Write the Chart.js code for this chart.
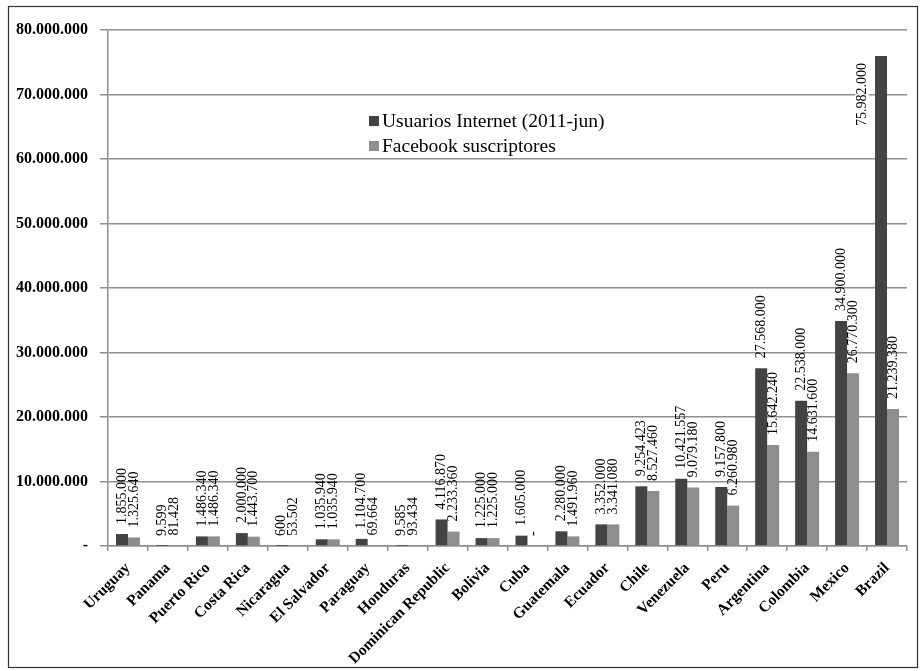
<!DOCTYPE html>
<html>
<head>
<meta charset="utf-8">
<script src="https://cdn.jsdelivr.net/npm/chart.js@4/dist/chart.umd.min.js"></script>
<style>
html,body{margin:0;padding:0;background:#fff;}
#wrap{width:921px;height:671px;position:relative;}
</style>
</head>
<body>
<div id="wrap"><canvas id="c" width="921" height="671"></canvas></div>
<script>
const categories = ["Uruguay","Panama","Puerto Rico","Costa Rica","Nicaragua","El Salvador","Paraguay","Honduras","Dominican Republic","Bolivia","Cuba","Guatemala","Ecuador","Chile","Venezuela","Peru","Argentina","Colombia","Mexico","Brazil"];
const internetUsers = [1855000,9599,1486340,2000000,600,1035940,1104700,9585,4116870,1225000,1605000,2280000,3352000,9254423,10421557,9157800,27568000,22538000,34900000,75982000];
const facebookSubs = [1325640,81428,1486340,1443700,53502,1035940,69664,93434,2233360,1225000,0,1491960,3341080,8527460,9079180,6260980,15642240,14631600,26770300,21239380];
const seriesNames = ["Usuarios Internet (2011-jun)","Facebook suscriptores"];
const yTicks = [0,10000000,20000000,30000000,40000000,50000000,60000000,70000000,80000000];

const DARK = "#434343", LIGHT = "#8e8e8e", GRID = "#8f8f8f";
function fmt(v){ if(v===0) return "-"; return String(v).replace(/\B(?=(\d{3})+(?!\d))/g, "."); }

const framePlugin = {
  id:'frame',
  beforeDraw(chart){
    const ctx = chart.ctx;
    ctx.save();
    ctx.fillStyle = '#fff';
    ctx.fillRect(0,0,chart.width,chart.height);
    ctx.restore();
  },
  afterDraw(chart){
    const ctx = chart.ctx;
    ctx.save();
    ctx.strokeStyle = '#333';
    ctx.lineWidth = 1.2;
    ctx.strokeRect(8.5,6.5,909,661);
    // legend
    const ds = chart.data.datasets;
    ctx.font = '19.5px "Liberation Serif"';
    ctx.textBaseline = 'middle';
    ctx.textAlign = 'left';
    const lx = 369, ly = [121,146];
    ds.forEach((d,i)=>{
      ctx.fillStyle = d.backgroundColor;
      ctx.fillRect(lx, ly[i]-5, 10, 10);
      ctx.fillStyle = '#000';
      ctx.fillText(d.label, lx+13, ly[i]+1);
    });
    ctx.restore();
  }
};

const labelPlugin = {
  id:'vlabels',
  afterDatasetsDraw(chart){
    const ctx = chart.ctx;
    const top = chart.chartArea.top;
    ctx.save();
    ctx.font = '14px "Liberation Serif"';
    ctx.fillStyle = '#000';
    ctx.textBaseline = 'middle';
    chart.data.datasets.forEach((d,di)=>{
      const meta = chart.getDatasetMeta(di);
      meta.data.forEach((bar,i)=>{
        const v = d.data[i];
        if(v===null||v===undefined) return;
        const txt = fmt(v);
        const w = ctx.measureText(txt).width;
        ctx.save();
        let x = bar.x, y = bar.y - 10;
        if (y - w < top) {
          x = bar.x - 19;
          ctx.translate(x, bar.y + 7);
          ctx.rotate(-Math.PI/2);
          ctx.fillStyle = 'rgba(255,255,255,0.85)';
          ctx.fillRect(-w-1, -7, w+2, 14);
          ctx.fillStyle = '#000';
          ctx.textAlign = 'right';
          ctx.fillText(txt, 0, 0);
        } else {
          ctx.translate(x, y);
          ctx.rotate(-Math.PI/2);
          ctx.textAlign = 'left';
          ctx.fillText(txt, 0, 0);
        }
        ctx.restore();
      });
    });
    ctx.restore();
  }
};

new Chart(document.getElementById('c'), {
  type:'bar',
  data:{
    labels: categories,
    datasets:[
      {label: seriesNames[0], data: internetUsers, backgroundColor: DARK, borderWidth:0},
      {label: seriesNames[1], data: facebookSubs, backgroundColor: LIGHT, borderWidth:0}
    ]
  },
  options:{
    responsive:false,
    animation:false,
    devicePixelRatio:1,
    layout:{padding:{left:8,top:30,right:14,bottom:0}},
    datasets:{bar:{categoryPercentage:0.6, barPercentage:1.0}},
    plugins:{legend:{display:false}, tooltip:{enabled:false}},
    scales:{
      x:{
        grid:{display:true, drawOnChartArea:false, drawTicks:true, tickLength:5, color:GRID, lineWidth:1.5},
        border:{display:true, color:GRID, width:1.5},
        ticks:{maxRotation:45, minRotation:45, autoSkip:false, padding:8, color:'#000',
          font:{family:'"Liberation Serif"', size:15.5, weight:'bold'}},
        afterFit(s){ s.height = 125; }
      },
      y:{
        min:0, max:80000000,
        afterBuildTicks(s){ s.ticks = yTicks.map(v=>({value:v})); },
        grid:{color:GRID, lineWidth:1.5, tickLength:8, drawTicks:true},
        border:{display:true, color:GRID, width:1.5},
        ticks:{padding:12, color:'#000', callback:(v)=>fmt(v),
          font:{family:'"Liberation Serif"', size:16, weight:'bold'}},
        afterFit(s){ s.width = 100; }
      }
    }
  },
  plugins:[framePlugin, labelPlugin]
});
</script>
</body>
</html>
